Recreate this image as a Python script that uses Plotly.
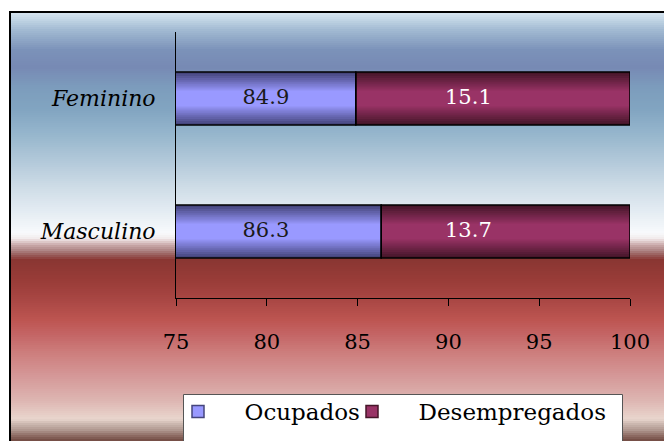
import plotly.graph_objects as go

categories = ["Masculino", "Feminino"]
ocupados = [86.3, 84.9]
desempregados = [13.7, 15.1]
tick_values = [75, 80, 85, 90, 95, 100]

W, H = 664, 441
L, R, T, B = 176, 630, 32, 298  # plot area in pixels
X_MIN, X_MAX = 75, 100
# horizontal positions (axis units) where the reference places the value labels
LABEL_X_OCUP = 79.95
LABEL_X_DESEMP = 91.1

def px2x(px):
    return (px - L) / (R - L)

def py2y(py):
    return (B - py) / (B - T)

def hex2rgb(h):
    h = h.lstrip("#")
    return tuple(int(h[i:i + 2], 16) for i in (0, 2, 4))

def mix(c1, c2, t):
    a, b = hex2rgb(c1), hex2rgb(c2)
    return "rgb(%d,%d,%d)" % tuple(round(a[i] + (b[i] - a[i]) * t) for i in range(3))

# background gradient stops (pixel y, colour)
stops = [
    (11, "#dbe8f1"), (20, "#c0d4e4"), (30, "#a2bad2"), (50, "#7b92b9"),
    (67, "#7789b4"), (87, "#7c9cbc"), (110, "#82a5c1"), (133, "#95b5cc"),
    (160, "#b1c8d9"), (187, "#cedce7"), (213, "#e5edf3"), (233, "#f8fafc"),
    (238, "#f2eced"), (241, "#e4d2d3"), (245, "#c9a9a9"), (250, "#b08787"),
    (255, "#985c5a"), (260, "#8a3632"), (283, "#9b3d39"), (300, "#a94744"),
    (320, "#bd5551"), (333, "#c36363"), (353, "#cd7e7d"), (377, "#d59999"),
    (400, "#ddb5b1"), (419, "#e9d6ce"), (424, "#cbb7af"), (430, "#b09890"),
    (435, "#917068"), (441, "#704840"),
]

def bg_color(py):
    for (y0, c0), (y1, c1) in zip(stops[:-1], stops[1:]):
        if y0 <= py <= y1:
            t = (py - y0) / (y1 - y0) if y1 > y0 else 0
            return mix(c0, c1, t)
    return stops[-1][1]

shapes = []
y = 11
step = 2
while y < H:
    shapes.append(dict(
        type="rect", xref="paper", yref="paper", layer="below",
        x0=px2x(10), x1=px2x(W + 2), y0=py2y(y), y1=py2y(min(y + step, H + 1)),
        fillcolor=bg_color(y + step / 2), line=dict(width=0),
    ))
    y += step

# frame (left and top edges)
shapes.append(dict(type="line", xref="paper", yref="paper", layer="below",
                   x0=px2x(10), x1=px2x(10), y0=py2y(11), y1=py2y(H + 2),
                   line=dict(color="black", width=2)))
shapes.append(dict(type="line", xref="paper", yref="paper", layer="below",
                   x0=px2x(9), x1=px2x(W + 2), y0=py2y(12), y1=py2y(12),
                   line=dict(color="black", width=2)))
# legend box
shapes.append(dict(type="rect", xref="paper", yref="paper", layer="below",
                   x0=px2x(183.5), x1=px2x(622.5), y0=py2y(394.5), y1=py2y(H + 3),
                   fillcolor="white", line=dict(color="#555555", width=1)))

fig = go.Figure()

BAR_W = 0.4
series = [
    ("Ocupados", ocupados, None, "#45457c", "#9999ff", "#1a1a1a", LABEL_X_OCUP, "legend"),
    ("Desempregados", desempregados, ocupados, "#461629", "#993366", "white", LABEL_X_DESEMP, "legend2"),
]
n_layers = 10
for name, vals, base, dark, light, tcol, lx, lg in series:
    for i in range(n_layers):
        t = i / (n_layers - 1)
        w = BAR_W * (1 - 0.7 * t)
        fig.add_trace(go.Bar(
            y=categories, x=vals, base=base, orientation="h", width=w,
            marker=dict(color=mix(dark, light, t), line=dict(width=0)),
            showlegend=False, hoverinfo="skip",
        ))
for name, vals, base, dark, light, tcol, lx, lg in series:
    fig.add_trace(go.Bar(
        y=categories, x=vals, base=base, orientation="h", width=BAR_W,
        marker=dict(color="rgba(0,0,0,0)", line=dict(color="black", width=1.5)),
        showlegend=False, name=name,
    ))
for name, vals, base, dark, light, tcol, lx, lg in series:
    fig.add_trace(go.Scatter(
        y=categories, x=[lx] * len(vals), mode="text",
        text=["%.1f" % v for v in vals], textposition="middle center",
        textfont=dict(family="DejaVu Serif", size=21, color=tcol),
        showlegend=False, hoverinfo="skip",
    ))
# legend entries
NB = "\u00a0"
for name, vals, base, dark, light, tcol, lx, lg in series:
    fig.add_trace(go.Bar(
        y=[categories[0]], x=[None], orientation="h", name=NB * 3 + "\u2009" + name,
        marker=dict(color=light, line=dict(color=dark, width=1.5)),
        showlegend=True, legend=lg,
    ))

leg_common = dict(
    orientation="h", xanchor="left", y=py2y(390), yanchor="top",
    bgcolor="rgba(0,0,0,0)", borderwidth=0,
    font=dict(family="DejaVu Serif", size=23), itemwidth=30,
)

fig.update_layout(
    width=W, height=H,
    margin=dict(l=L, r=W - R, t=T, b=H - B, pad=0, autoexpand=False),
    barmode="overlay",
    paper_bgcolor="white",
    plot_bgcolor="rgba(0,0,0,0)",
    shapes=shapes,
    font=dict(family="DejaVu Serif", size=21, color="black"),
    xaxis=dict(
        range=[X_MIN, X_MAX], tickvals=tick_values, ticktext=[str(v) for v in tick_values],
        showgrid=False, zeroline=False, showline=True, linecolor="black", linewidth=1,
        ticks="outside", ticklen=7, tickcolor="black", tickwidth=1,
        ticklabelstandoff=18, tickfont=dict(family="DejaVu Serif", size=21),
        automargin=False,
    ),
    yaxis=dict(
        categoryorder="array", categoryarray=categories, range=[-0.5, 1.5],
        showgrid=False, zeroline=False, showline=True, linecolor="black", linewidth=1,
        ticks="", ticklabelstandoff=15, automargin=False,
        tickfont=dict(family="DejaVu Serif", size=22, style="italic"),
    ),
    legend=dict(x=px2x(178), **leg_common),
    legend2=dict(x=px2x(352), **leg_common),
)

fig.write_html("out.html")
